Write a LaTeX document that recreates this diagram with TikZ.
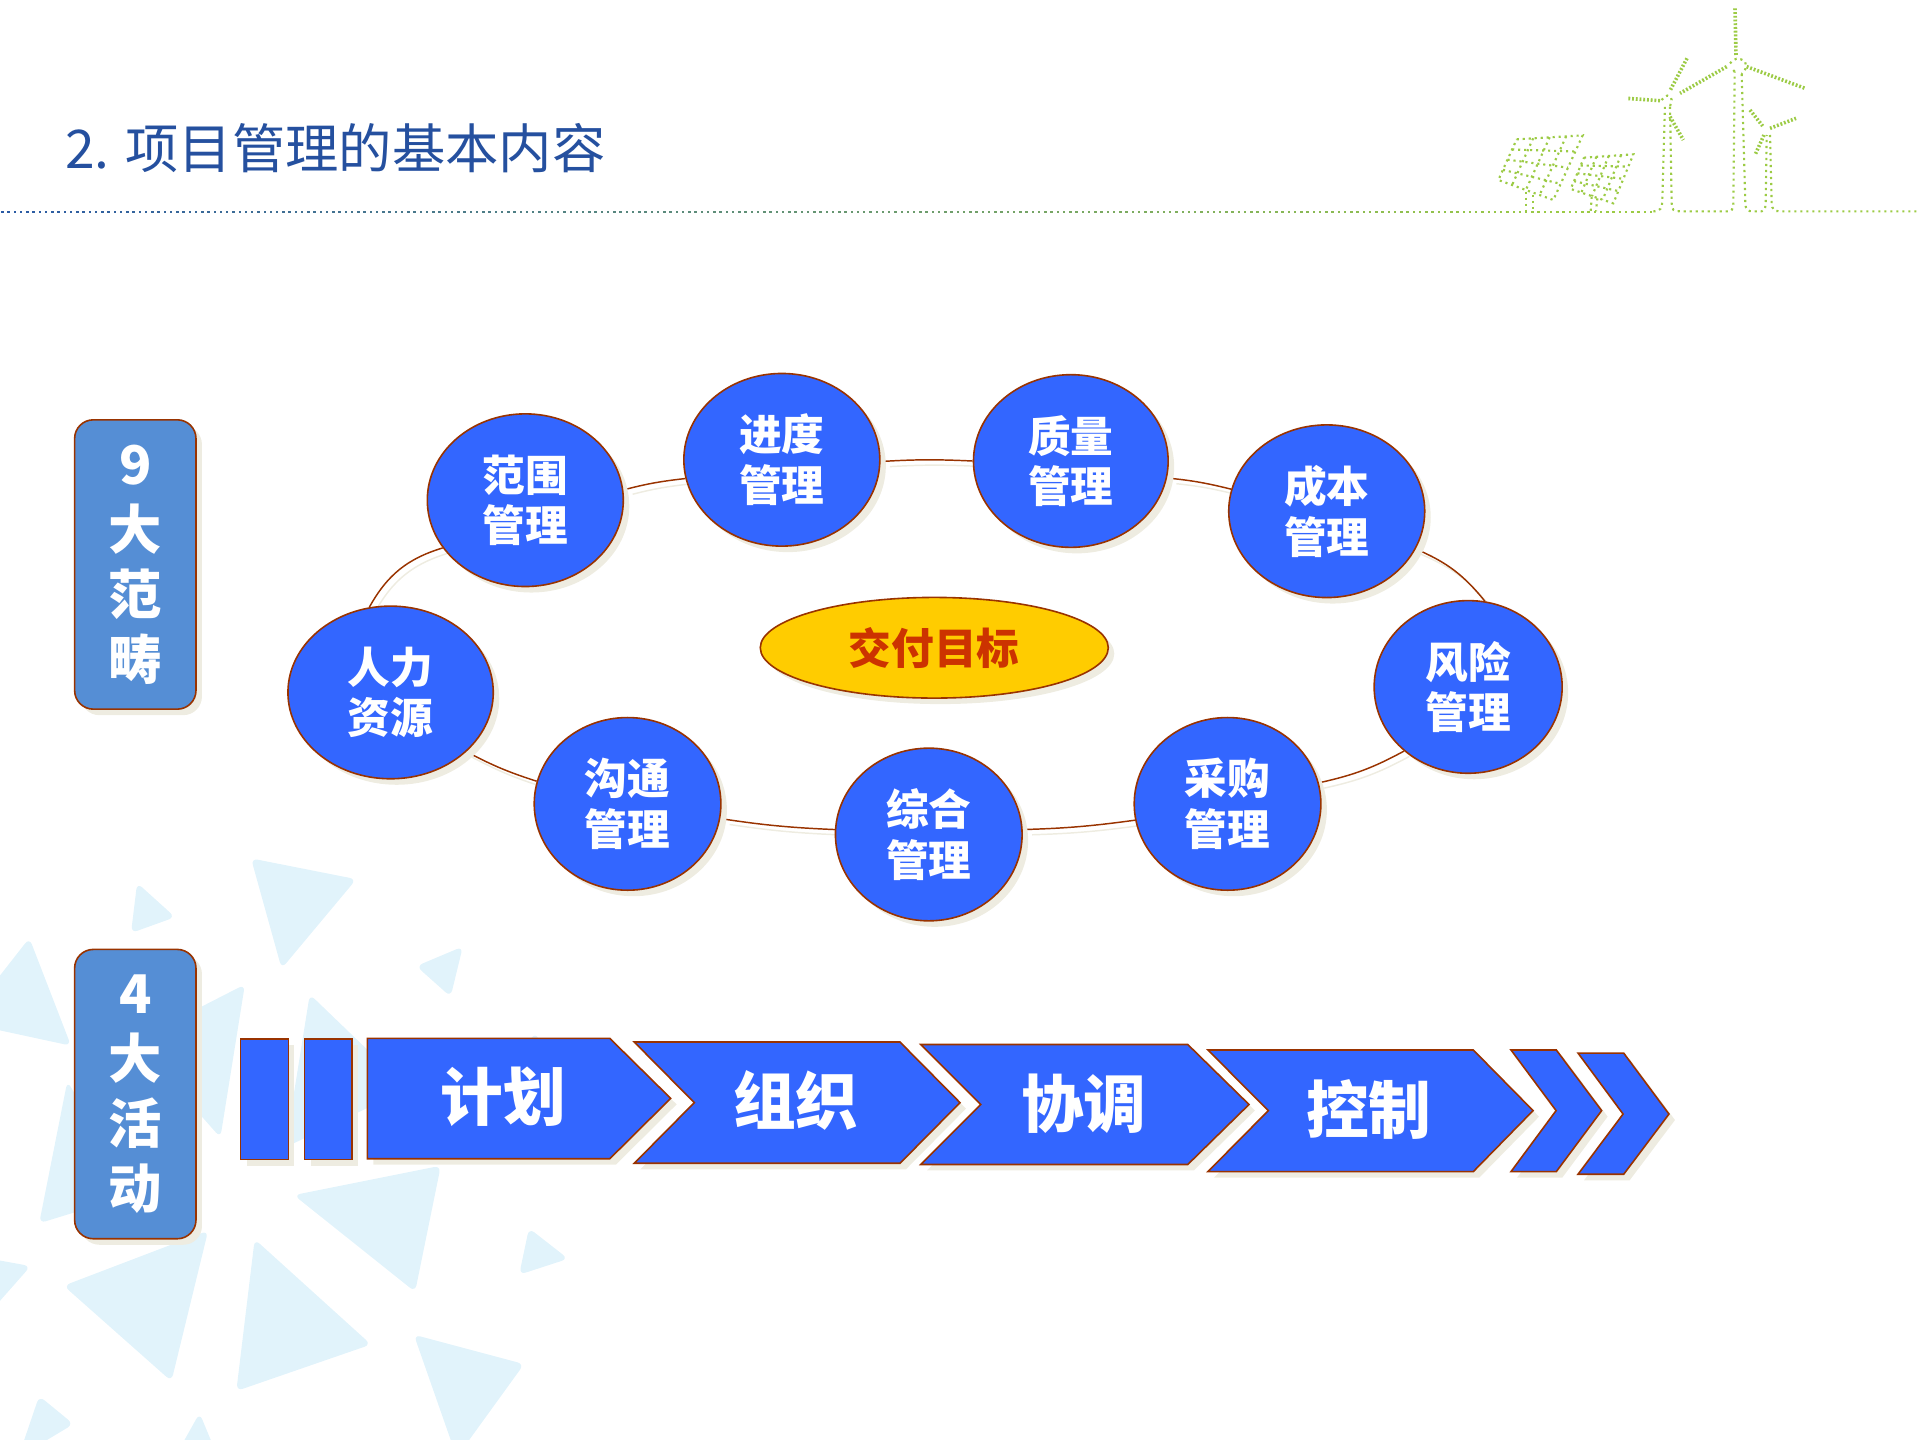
\documentclass[tikz,border=0pt]{standalone}
\usepackage{fontspec}
\setmainfont{Noto Sans CJK SC}
\usetikzlibrary{shapes.geometric}
\usetikzlibrary{shadows}
\usetikzlibrary{backgrounds}
\usetikzlibrary{calc}
\definecolor{edgecol}{HTML}{993300}
\definecolor{blobcol}{HTML}{3366FF}
\definecolor{sidecol}{HTML}{558ED5}
\definecolor{shadecol}{HTML}{EEECE1}
\definecolor{goalcol}{HTML}{FFCC00}
\definecolor{goaltext}{HTML}{CC3300}
\definecolor{titlecol}{HTML}{25509F}
\definecolor{tricol}{HTML}{E1F3FB}
\definecolor{leafcol}{HTML}{9CCB45}
\definecolor{ruleblue}{HTML}{2A5AA5}
\tikzset{
  softshade/.style={general shadow={fill=shadecol,shadow xshift=4.5pt,shadow yshift=-4.5pt}},
  topicnode/.style={ellipse,draw=edgecol,line width=1.2pt,fill=blobcol,softshade,text=white,
    inner sep=0pt,minimum height=129.5pt,align=center,font=\bfseries\fontsize{32}{38}\selectfont},
  goalnode/.style={ellipse,draw=edgecol,line width=1.2pt,fill=goalcol,softshade,text=goaltext,
    inner sep=0pt,minimum width=261pt,minimum height=75.5pt,font=\bfseries\fontsize{32}{38}\selectfont},
  sidenode/.style={rectangle,rounded corners=14pt,draw=edgecol,line width=1.2pt,fill=sidecol,softshade,
    text=white,inner sep=0pt,minimum width=91pt,minimum height=217pt,align=center,
    font=\bfseries\fontsize{40}{48.7}\selectfont},
  flowbox/.style={draw=edgecol,line width=1.2pt,line join=miter,fill=blobcol,softshade},
  flowtext/.style={text=white,font=\bfseries\fontsize{47}{50}\selectfont},
  linkline/.style={draw=edgecol,line width=1.1pt,
    preaction={draw=shadecol,line width=1.1pt,transform canvas={shift={(4pt,-4pt)}}}},
  tri/.style={fill=tricol,rounded corners=5pt},
  leafdots/.style={draw=leafcol,line width=1.6pt,dash pattern=on 1.6pt off 2.9pt},
  bladedots/.style={draw=leafcol,line width=2.7pt,dash pattern=on 1.4pt off 1.4pt},
}
\begin{document}
\begin{tikzpicture}[x=0.91837pt,y=-0.91837pt]
  \useasboundingbox (0,0) rectangle (1568,1176);

  % title and rule
  \node[anchor=west,text=titlecol,inner sep=0pt,font=\fontsize{40}{44}\selectfont] (title) at (53,121) {2. 项目管理的基本内容};
  \foreach \n in {0,...,264} {
    \pgfmathsetmacro{\xpos}{2+5.1*\n}
    \pgfmathsetmacro{\mixv}{min(100,\xpos/12.8)}
    \fill[leafcol!\mixv!ruleblue] (\xpos-1,172) rectangle (\xpos+1,174);
  }

  % wind and sun
  \begin{scope}[shift={(1080pt,0pt)},x=0.25pt,y=-0.25pt]
    \draw[leafdots] (640,634) .. controls (662,634) and (666,625) .. (667,600) -- (675,310);
    \draw[leafdots] (690,320) -- (695,610) .. controls (696,630) and (700,634) .. (720,634) -- (865,634)
      .. controls (875,634) and (879,628) .. (880,610) -- (884,215);
    \draw[leafdots] (905,222) -- (916,610) .. controls (917,630) and (922,634) .. (940,634) -- (965,634)
      .. controls (972,634) and (976,628) .. (977,610) -- (980,405);
    \draw[leafdots] (990,405) -- (995,610) .. controls (996,628) and (1002,634) .. (1020,634) -- (1440,634);
    \draw[leafdots] (870,190) .. controls (882,175) and (895,170) .. (915,185) .. controls (922,200) and (915,215) .. (905,222);
    \draw[leafdots] (884,215) -- (875,205);
    \draw[leafdots] (665,300) .. controls (675,285) and (690,280) .. (695,300) -- (690,320);
    \draw[bladedots] (885,25) -- (888,165);
    \draw[bladedots] (920,200) -- (1095,265);
    \draw[bladedots] (860,200) -- (720,280);
    \draw[bladedots] (741,175) -- (690,272);
    \draw[bladedots] (660,302) -- (560,295);
    \draw[bladedots] (690,350) -- (730,420);
    \draw[bladedots] (930,330) -- (968,378);
    \draw[bladedots] (990,385) -- (1068,355);
    \draw[bladedots] (972,405) -- (945,465);
    \coordinate (pa) at (230,418);
    \coordinate (pb) at (428,406);
    \coordinate (pc) at (340,600);
    \coordinate (pd) at (175,540);
    \draw[leafdots] (pa) -- (pb) -- (pc) -- (pd) -- cycle;
    \foreach \t in {0.25,0.5,0.75} {
      \draw[leafdots] ($(pa)!\t!(pb)$) -- ($(pd)!\t!(pc)$);
      \draw[leafdots] ($(pa)!\t!(pd)$) -- ($(pb)!\t!(pc)$);
    }
    \coordinate (qa) at (432,473);
    \coordinate (qb) at (580,463);
    \coordinate (qc) at (520,610);
    \coordinate (qd) at (392,567);
    \draw[leafdots] (qa) -- (qb) -- (qc) -- (qd) -- cycle;
    \foreach \t in {0.25,0.5,0.75} {
      \draw[leafdots] ($(qa)!\t!(qb)$) -- ($(qd)!\t!(qc)$);
      \draw[leafdots] ($(qa)!\t!(qd)$) -- ($(qb)!\t!(qc)$);
    }
    \draw[leafdots] (258,575) -- (258,634);
    \draw[leafdots] (278,585) -- (278,634);
    \draw[leafdots] (455,590) -- (452,634);
    \draw[leafdots] (472,595) -- (468,634);
  \end{scope}

  % the nine topics
  \node[topicnode,minimum width=147pt] (fanwei) at (429,408.5) {范围\\管理};
  \node[topicnode,minimum width=147pt] (jindu) at (638.5,375.5) {进度\\管理};
  \node[topicnode,minimum width=146pt] (zhiliang) at (874.5,376.5) {质量\\管理};
  \node[topicnode,minimum width=147pt] (chengben) at (1083.5,417.5) {成本\\管理};
  \node[topicnode,minimum width=141pt] (fengxian) at (1199,561) {风险\\管理};
  \node[topicnode,minimum width=140pt] (caigou) at (1002.5,656.5) {采购\\管理};
  \node[topicnode,minimum width=140pt] (zonghe) at (758.5,681.5) {综合\\管理};
  \node[topicnode,minimum width=140pt] (goutong) at (512.5,656.5) {沟通\\管理};
  \node[topicnode,minimum width=154pt] (renli) at (319,565.5) {人力\\资源};
  \node[goalnode] (goal) at (763,529) {交付目标};

  % side labels
  \node[sidenode] (fanchou) at (110.5,461) {9\\大\\范\\畴};
  \node[sidenode] (huodong) at (110.5,893.5) {4\\大\\活\\动};

  % flow of activities
  \draw[flowbox] (196.5,848.5) rectangle (235.5,947);
  \draw[flowbox] (248.8,848.5) rectangle (287.7,947);
  \draw[flowbox] (300,848) -- (498,848) -- (547.7,897) -- (498,946.3) -- (300,946.3) -- cycle;
  \draw[flowbox] (518,851) -- (735,851) -- (784,900.5) -- (735,950) -- (518,950) -- (567,900.5) -- cycle;
  \draw[flowbox] (752,853) -- (970,853) -- (1020,902) -- (970,951) -- (752,951) -- (801,902) -- cycle;
  \draw[flowbox] (986.5,857.5) -- (1203.2,857.5) -- (1252,907) -- (1203.2,956.8) -- (986.5,956.8) -- (1035.8,907) -- cycle;
  \draw[flowbox] (1234,857.5) -- (1271,857.5) -- (1308,907) -- (1271,956.8) -- (1234,956.8) -- (1270.8,907) -- cycle;
  \draw[flowbox] (1288.7,860) -- (1326,860) -- (1363,909.8) -- (1326,959) -- (1288.7,959) -- (1325.5,909.8) -- cycle;
  \node[flowtext] (jihua) at (411,896) {计划};
  \node[flowtext] (zuzhi) at (650,899) {组织};
  \node[flowtext] (xietiao) at (885,901) {协调};
  \node[flowtext] (kongzhi) at (1118,906) {控制};

  \begin{pgfonlayer}{background}
    % background triangles
    \fill[tri] (205,701) -- (291,718) -- (230,791) -- cycle;
    \fill[tri] (112,721) -- (143,749) -- (107,762) -- cycle;
    \fill[tri] (24,766) -- (58,854) -- (-30,835) -- cycle;
    \fill[tri] (378,773) -- (368,814) -- (340,789) -- cycle;
    \fill[tri] (200,804) -- (180,929) -- (110,850) -- cycle;
    \fill[tri] (55,883) -- (32,999) -- (110,975) -- cycle;
    \fill[tri] (253,812) -- (333,889) -- (233,937) -- cycle;
    \fill[tri] (437,843) -- (425,862) -- (447,862) -- cycle;
    \fill[tri] (360,952) -- (339,1055) -- (240,976) -- cycle;
    \fill[tri] (432,1003) -- (464,1028) -- (424,1041) -- cycle;
    \fill[tri] (52,1050) -- (170,1005) -- (140,1128) -- cycle;
    \fill[tri] (208,1012) -- (303,1098) -- (193,1136) -- cycle;
    \fill[tri] (338,1090) -- (428,1114) -- (373,1190) -- cycle;
    \fill[tri] (-30,1024) -- (25,1034) -- (-20,1085) -- cycle;
    \fill[tri] (32,1140) -- (60,1163) -- (15,1190) -- cycle;
    \fill[tri] (163,1154) -- (180,1195) -- (140,1195) -- cycle;

    % ring of links
    \path[linkline] (renli.104.5) to[bend left=22] (fanwei.210);
    \path[linkline,shorten <=3pt] (fanwei.6.5) to[bend left=4] (jindu.191);
    \path[linkline,shorten <=3pt] (jindu.-1) to[bend left=3] (zhiliang.180);
    \path[linkline,shorten <=3pt] (zhiliang.-10) to[bend left=4] (chengben.167);
    \path[linkline] (chengben.-23) to[bend left=14] (fengxian.79.5);
    \path[linkline] (fengxian.225) to[bend left=8] (caigou.13);
    \path[linkline,shorten >=3pt] (caigou.190) to[bend left=3] (zonghe.3);
    \path[linkline,shorten >=3pt] (zonghe.177) to[bend left=3] (goutong.-9);
    \path[linkline] (goutong.166) to[bend left=5] (renli.-38);
  \end{pgfonlayer}
\end{tikzpicture}
\end{document}
